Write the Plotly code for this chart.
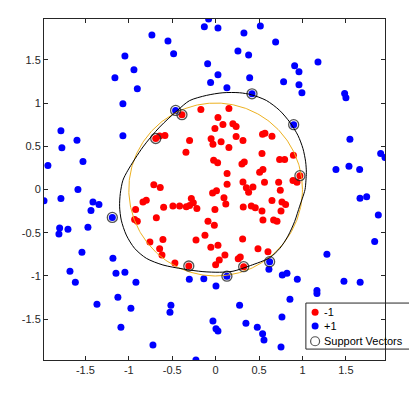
import plotly.graph_objects as go
import numpy as np

# ---- data ----
red_x = [-0.388, -0.170, -0.584, -0.645, -0.690, -0.300, -0.342, -0.712, -0.638, 0.153,
         0.027, -0.008, 0.084, 0.199, 0.236, -0.052, -0.031, 0.063, 0.236, 0.315,
         0.153, 0.540, 0.568, 0.649, 0.534, 0.896, -0.023, 0.023, 0.737, 0.795,
         0.303, 0.330, 0.132, 0.545, 0.507, 0.563, 0.971, 0.891, 0.937, 0.726,
         0.315, 0.354, 0.430, 0.380, 0.132, 0.745, -0.035, 0.010, 0.096, 0.117,
         -0.008, 0.318, 0.411, 0.457, 0.649, 0.764, 0.806, 0.534, 0.753, 0.545,
         0.668, 0.707, -0.015, 0.311, 0.027, -0.055, 0.488, 0.603, 0.107, 0.284,
         0.260, 0.042, 0.000, 0.323, -0.837, -0.799, -0.280, -0.257, -0.922, -0.599,
         -0.492, -0.415, -0.338, -0.300, -0.216, -0.933, -0.902, -0.683, -0.088, -0.757,
         -0.607, -0.645, -0.618, -0.226, -0.123, -0.469, -0.309]
red_y = [0.865, 0.925, 0.625, 0.618, 0.590, 0.567, 0.430, 0.055, 0.022, 0.936,
         0.832, 0.705, 0.752, 0.761, 0.730, 0.588, 0.522, 0.553, 0.613, 0.566,
         0.486, 0.638, 0.652, 0.615, 0.415, 0.396, 0.338, 0.309, 0.346, 0.346,
         0.295, 0.318, 0.186, 0.231, 0.200, 0.085, 0.160, 0.104, 0.084, 0.084,
         0.088, 0.020, 0.030, -0.031, 0.061, -0.008, -0.040, -0.015, -0.094, -0.168,
         -0.231, -0.202, -0.192, -0.212, -0.127, -0.146, -0.173, -0.250, -0.250, -0.354,
         -0.354, -0.366, -0.413, -0.573, -0.645, -0.667, -0.685, -0.720, -0.758, -0.781,
         -0.800, -0.815, -0.870, -0.893, -0.146, -0.123, -0.104, -0.154, -0.231, -0.204,
         -0.192, -0.192, -0.200, -0.185, -0.219, -0.346, -0.366, -0.327, -0.366, -0.608,
         -0.577, -0.685, -0.758, -0.585, -0.529, -0.850, -0.885]
red_sv_idx = [0, 4, 36, 73, 96]

blue_x = [-0.734, -0.549, -0.484, -1.045, -0.941, -1.160, -0.902, -1.068, -1.068, -1.782,
          -1.771, -1.597, -1.528, -1.932, -1.586, -1.782, -1.977, -1.413, -1.344, -1.436,
          -1.190, -1.797, -1.805, -1.701, -1.471, -1.540, -1.183, -1.678, -1.616, -1.148,
          -1.045, -0.918, -1.367, -1.126, -0.976, -1.091, -0.722, -0.515, -0.526, -0.227,
          -0.303, -0.136, -0.461, -0.081, -0.130, 0.027, 0.515, 0.326, 0.691, 0.257,
          0.380, -0.092, 0.027, -0.058, 0.130, 0.392, 0.783, 0.910, 0.960, 0.960,
          0.994, 1.179, 1.486, 1.501, 0.419, 0.899, 1.547, 1.901, 1.951, 1.386,
          1.536, 1.659, 1.663, 1.740, 1.874, 1.832, 1.282, 1.478, 1.665, 1.167,
          1.167, 0.941, 0.822, 0.768, 0.614, 0.622, 0.130, 0.004, 0.856, 0.276,
          0.764, -0.031, 0.004, 0.027, 0.349, 0.480, 0.541, 0.557, 0.753]
blue_y = [1.788, 1.718, 1.569, 1.545, 1.384, 1.292, 1.165, 0.992, 0.623, 0.680,
          0.484, 0.569, 0.323, 0.277, 0.000, -0.104, -0.130, -0.146, -0.173, -0.242,
          -0.323, -0.446, -0.516, -0.461, -0.438, -0.727, -0.796, -0.946, -1.073, -0.969,
          -0.957, -1.073, -1.326, -1.246, -1.373, -1.592, -1.799, -1.338, -1.419, -1.972,
          -1.038, -1.031, 0.915, 1.972, 1.883, 1.868, 1.891, 1.811, 1.707, 1.603,
          1.557, 1.453, 1.326, 1.238, 1.176, 1.292, 1.246, 1.430, 1.361, 1.211,
          1.119, 1.476, 1.111, 1.061, 1.107, 0.750, 0.580, 0.415, 0.369, 0.231,
          0.269, 0.231, -0.100, -0.085, -0.296, -0.600, -0.750, -1.061, -1.073, -1.169,
          -1.204, -1.038, -0.969, -0.988, -0.923, -0.835, -1.003, -1.115, -1.269, -1.338,
          -1.476, -1.522, -1.611, -1.638, -1.546, -1.592, -1.669, -1.742, -1.822]
blue_sv_idx = [20, 42, 64, 65, 85, 86]

# decision boundary (score = 0 contour)
bound_x = [1.030, 1.040, 1.045, 1.037, 1.006, 0.948, 0.853, 0.737, 0.584, 0.411,
           0.276, 0.084, -0.107, -0.300, -0.434, -0.645, -0.837, -1.010, -1.068, -1.098,
           -1.106, -1.087, -1.029, -0.933, -0.798, -0.607, -0.376, -0.146, 0.046, 0.200,
           0.400, 0.622, 0.740, 0.833, 0.910, 0.968, 1.000, 1.030]
bound_y = [0.000, 0.100, 0.200, 0.320, 0.473, 0.626, 0.780, 0.915, 1.030, 1.096,
           1.119, 1.119, 1.088, 1.028, 0.920, 0.722, 0.492, 0.223, 0.107, -0.046,
           -0.200, -0.354, -0.527, -0.681, -0.796, -0.873, -0.919, -0.950, -0.957, -0.945,
           -0.880, -0.789, -0.680, -0.539, -0.370, -0.193, -0.100, 0.000]

tick_vals = [-1.5, -1, -0.5, 0, 0.5, 1, 1.5]
tick_text = ["-1.5", "-1", "-0.5", "0", "0.5", "1", "1.5"]
legend_labels = ["-1", "+1", "Support Vectors"]

# ---- figure ----
FONT = "Liberation Sans, Arial, sans-serif"
AX = "#262626"
fig = go.Figure()

fig.add_trace(go.Scatter(x=red_x, y=red_y, mode="markers", name="-1",
                         marker=dict(color="#ff0000", size=7, line=dict(width=0)),
                         showlegend=False, hoverinfo="skip"))
fig.add_trace(go.Scatter(x=blue_x, y=blue_y, mode="markers", name="+1",
                         marker=dict(color="#0000ff", size=7, line=dict(width=0)),
                         showlegend=False, hoverinfo="skip"))

# unit circle (ezpolar r = 1)
th = np.linspace(0, 2 * np.pi, 361)
fig.add_trace(go.Scatter(x=np.cos(th), y=np.sin(th), mode="lines",
                         line=dict(color="#EDB120", width=1),
                         showlegend=False, hoverinfo="skip"))

sv_x = [red_x[i] for i in red_sv_idx] + [blue_x[i] for i in blue_sv_idx]
sv_y = [red_y[i] for i in red_sv_idx] + [blue_y[i] for i in blue_sv_idx]
fig.add_trace(go.Scatter(x=sv_x, y=sv_y, mode="markers", name="Support Vectors",
                         marker=dict(symbol="circle-open", size=10,
                                     color="rgba(40,40,40,0.8)", line=dict(width=1.3)),
                         showlegend=False, hoverinfo="skip"))

fig.add_trace(go.Scatter(x=bound_x, y=bound_y, mode="lines",
                         line=dict(color="#000000", width=1, shape="spline", smoothing=0.8),
                         showlegend=False, hoverinfo="skip"))

# ---- custom legend (compact, like MATLAB) ----
leg_y = [0.140, 0.100, 0.055]
leg_x_marker = 0.795
leg_x_text = 0.815
fig.add_shape(type="rect", xref="paper", yref="paper", x0=0.768, x1=1.15,
              y0=0.032, y1=0.167, line=dict(color=AX, width=1), fillcolor="white",
              layer="below")
leg_marker_styles = [
    dict(color="#ff0000", size=7, symbol="circle"),
    dict(color="#0000ff", size=7, symbol="circle"),
    dict(color="rgba(40,40,40,0.8)", size=9, symbol="circle-open", line=dict(width=1.2)),
]
for yy, lab, ms in zip(leg_y, legend_labels, leg_marker_styles):
    fig.add_trace(go.Scatter(x=[leg_x_marker], y=[yy], mode="markers", marker=ms,
                             xaxis="x2", yaxis="y2", cliponaxis=False,
                             showlegend=False, hoverinfo="skip"))
    fig.add_annotation(x=leg_x_text, y=yy, xref="paper", yref="paper", text=lab,
                       showarrow=False, xanchor="left", yanchor="middle",
                       font=dict(family=FONT, size=11, color="#000000"))

all_x = red_x + blue_x
all_y = red_y + blue_y
axis_common = dict(showgrid=False, zeroline=False, showline=True, linecolor=AX,
                   linewidth=1, mirror="ticks", ticks="inside", ticklen=4,
                   tickcolor=AX, tickwidth=1, tickvals=tick_vals, ticktext=tick_text,
                   tickfont=dict(family=FONT, size=11, color=AX))
fig.update_layout(
    width=409, height=396,
    margin=dict(l=44, r=24, t=19, b=36),
    paper_bgcolor="white", plot_bgcolor="white",
    xaxis=dict(range=[min(all_x), max(all_x)], **axis_common),
    yaxis=dict(range=[min(all_y), max(all_y)], **axis_common),
    xaxis2=dict(overlaying="x", range=[0, 1], visible=False),
    yaxis2=dict(overlaying="y", range=[0, 1], visible=False),
    showlegend=False,
)

fig.write_html("out.html", config={"displayModeBar": False},
               post_script="document.body.style.margin='0';"
                           "document.body.style.overflow='hidden';")
